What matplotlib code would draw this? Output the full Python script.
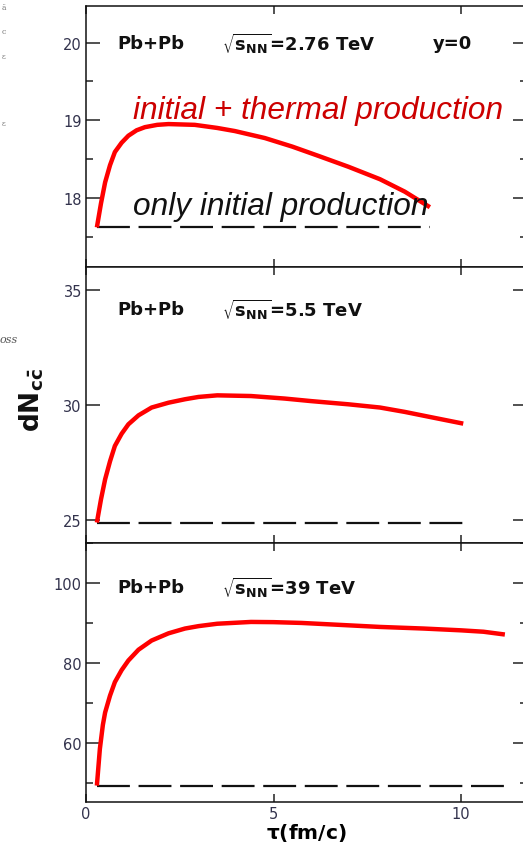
import matplotlib
matplotlib.use("Agg")
import matplotlib.pyplot as plt
from matplotlib.ticker import MultipleLocator

plt.rcParams['font.family'] = ['DejaVu Sans']
plt.rcParams['mathtext.fontset'] = 'dejavusans'

# ---- data ----
tau_276 = [0.29, 0.40, 0.51, 0.64, 0.77, 0.95, 1.13, 1.35, 1.57, 1.9, 2.2, 2.9, 3.5,
           3.97, 4.77, 5.5, 6.2, 7.0, 7.84, 8.5, 9.17]
dn_276 = [17.62, 17.93, 18.20, 18.42, 18.59, 18.71, 18.80, 18.87, 18.91, 18.94, 18.95,
          18.94, 18.90, 18.86, 18.77, 18.66, 18.54, 18.40, 18.24, 18.08, 17.88]
init_276 = 17.62

tau_55 = [0.29, 0.40, 0.51, 0.64, 0.77, 0.95, 1.13, 1.4, 1.75, 2.2, 2.64, 3.0, 3.5,
          4.4, 5.3, 6.0, 7.0, 7.84, 8.5, 9.2, 10.06]
dn_55 = [24.89, 25.9, 26.77, 27.55, 28.22, 28.75, 29.16, 29.55, 29.89, 30.10, 30.25,
         30.35, 30.42, 30.39, 30.28, 30.17, 30.03, 29.89, 29.70, 29.47, 29.19]
init_55 = 24.89

tau_39 = [0.29, 0.37, 0.45, 0.51, 0.64, 0.77, 0.95, 1.13, 1.4, 1.75, 2.2, 2.64, 3.0,
          3.5, 4.4, 5.0, 5.75, 6.8, 7.84, 9.0, 10.0, 10.6, 11.17]
dn_39 = [49.3, 58.5, 64.5, 67.6, 71.8, 75.2, 78.2, 80.6, 83.3, 85.6, 87.4, 88.6, 89.2,
         89.8, 90.25, 90.2, 90.0, 89.5, 89.0, 88.6, 88.15, 87.8, 87.1]
init_39 = 49.25

energies = ['2.76', '5.5', '39']
x_ticks = [0, 5, 10]

fig = plt.figure(figsize=(5.23, 8.45), dpi=100)
W, H = 523.0, 845.0
left, right = 86 / W, 527 / W
panels = [(7, 268), (268, 544), (544, 803)]
axes = []
for (t, b) in panels:
    ax = fig.add_axes([left, 1 - b / H, right - left, (b - t) / H])
    axes.append(ax)

ylims = [(17.11, 20.47), (24.0, 36.0), (45.2, 110.0)]
majors = [1, 5, 20]
minors = [0.5, None, 10]
series = [(tau_276, dn_276, init_276), (tau_55, dn_55, init_55), (tau_39, dn_39, init_39)]
ann_y = [44, 310, 588]

lab_col = '#33334d'
AW = 441.0
for i, ax in enumerate(axes):
    tau, dn, init = series[i]
    ax.plot(tau, dn, color='#ff0000', lw=3.2, solid_capstyle='butt', zorder=3)
    ax.plot([tau[0], tau[-1]], [init, init], color='#111111', lw=1.6,
            ls=(0, (14.8, 3.9)), zorder=2)
    ax.set_xlim(0, (527 - 86) / 37.5)
    ax.set_ylim(*ylims[i])
    ax.set_xticks(x_ticks)
    ax.yaxis.set_major_locator(MultipleLocator(majors[i]))
    if minors[i]:
        ax.yaxis.set_minor_locator(MultipleLocator(minors[i]))
    else:
        ax.yaxis.set_minor_locator(plt.NullLocator())
    ax.tick_params(axis='y', which='major', direction='in', length=10, width=1.1,
                   left=True, right=True, labelsize=10.5, labelcolor=lab_col, pad=3,
                   color='#222222')
    ax.tick_params(axis='y', which='minor', direction='in', length=5, width=1.1,
                   left=True, right=True, color='#222222')
    ax.tick_params(axis='x', which='major', direction='in', length=6, width=1.1,
                   top=True, bottom=True, labelsize=10.5, labelcolor=lab_col, pad=3,
                   color='#222222')
    if i < 2:
        ax.tick_params(axis='x', labelbottom=False)
    for s in ax.spines.values():
        s.set_linewidth(1.1)
        s.set_color('#111111')
    ph = panels[i][1] - panels[i][0]
    yfrac = 1 - (ann_y[i] - panels[i][0]) / ph
    ax.text((117 - 86) / AW, yfrac, 'Pb+Pb', transform=ax.transAxes, fontsize=13,
            fontweight='bold', va='center', ha='left', color='#111111')
    ax.text((222 - 86) / AW, yfrac,
            r'$\sqrt{\mathbf{s}_{\mathbf{NN}}}$' + '=' + energies[i] + ' TeV',
            transform=ax.transAxes, fontsize=13, fontweight='bold',
            va='center', ha='left', color='#111111')

axes[0].text((433 - 86) / AW, 1 - (44 - 7) / 261, 'y=0', transform=axes[0].transAxes,
             fontsize=13, fontweight='bold', va='center', ha='left', color='#111111')
axes[0].text((133 - 86) / AW, 1 - (111 - 7) / 261, 'initial + thermal production',
             transform=axes[0].transAxes, fontsize=22.8, style='italic',
             family='Liberation Sans', va='center', ha='left', color='#cc0000')
axes[0].text((133 - 86) / AW, 1 - (207 - 7) / 261, 'only initial production',
             transform=axes[0].transAxes, fontsize=22.8, style='italic',
             family='Liberation Sans', va='center', ha='left', color='#111111')

axes[2].set_xlabel(r'$\mathbf{\tau}$(fm/c)', fontsize=14.5, fontweight='bold', labelpad=0)

fig.text(32 / W, 1 - 400 / H, r'$\mathbf{dN}_{\mathbf{c\bar{c}}}$', rotation=90,
         fontsize=19, fontweight='bold', ha='center', va='center', color='#111111')

# stray fragments at the left border
fig.text(0 / W, 1 - 340 / H, 'oss', family='DejaVu Serif', style='italic', fontsize=8,
         color='#555555', ha='left', va='center')
for yy, ch in [(8, 'ä'), (32, 'c'), (57, 'ε'), (124, 'ε')]:
    fig.text(2 / W, 1 - yy / H, ch, family='DejaVu Serif', fontsize=5.5,
             color='#777777', ha='left', va='center')

fig.savefig('out.png', dpi=100)
